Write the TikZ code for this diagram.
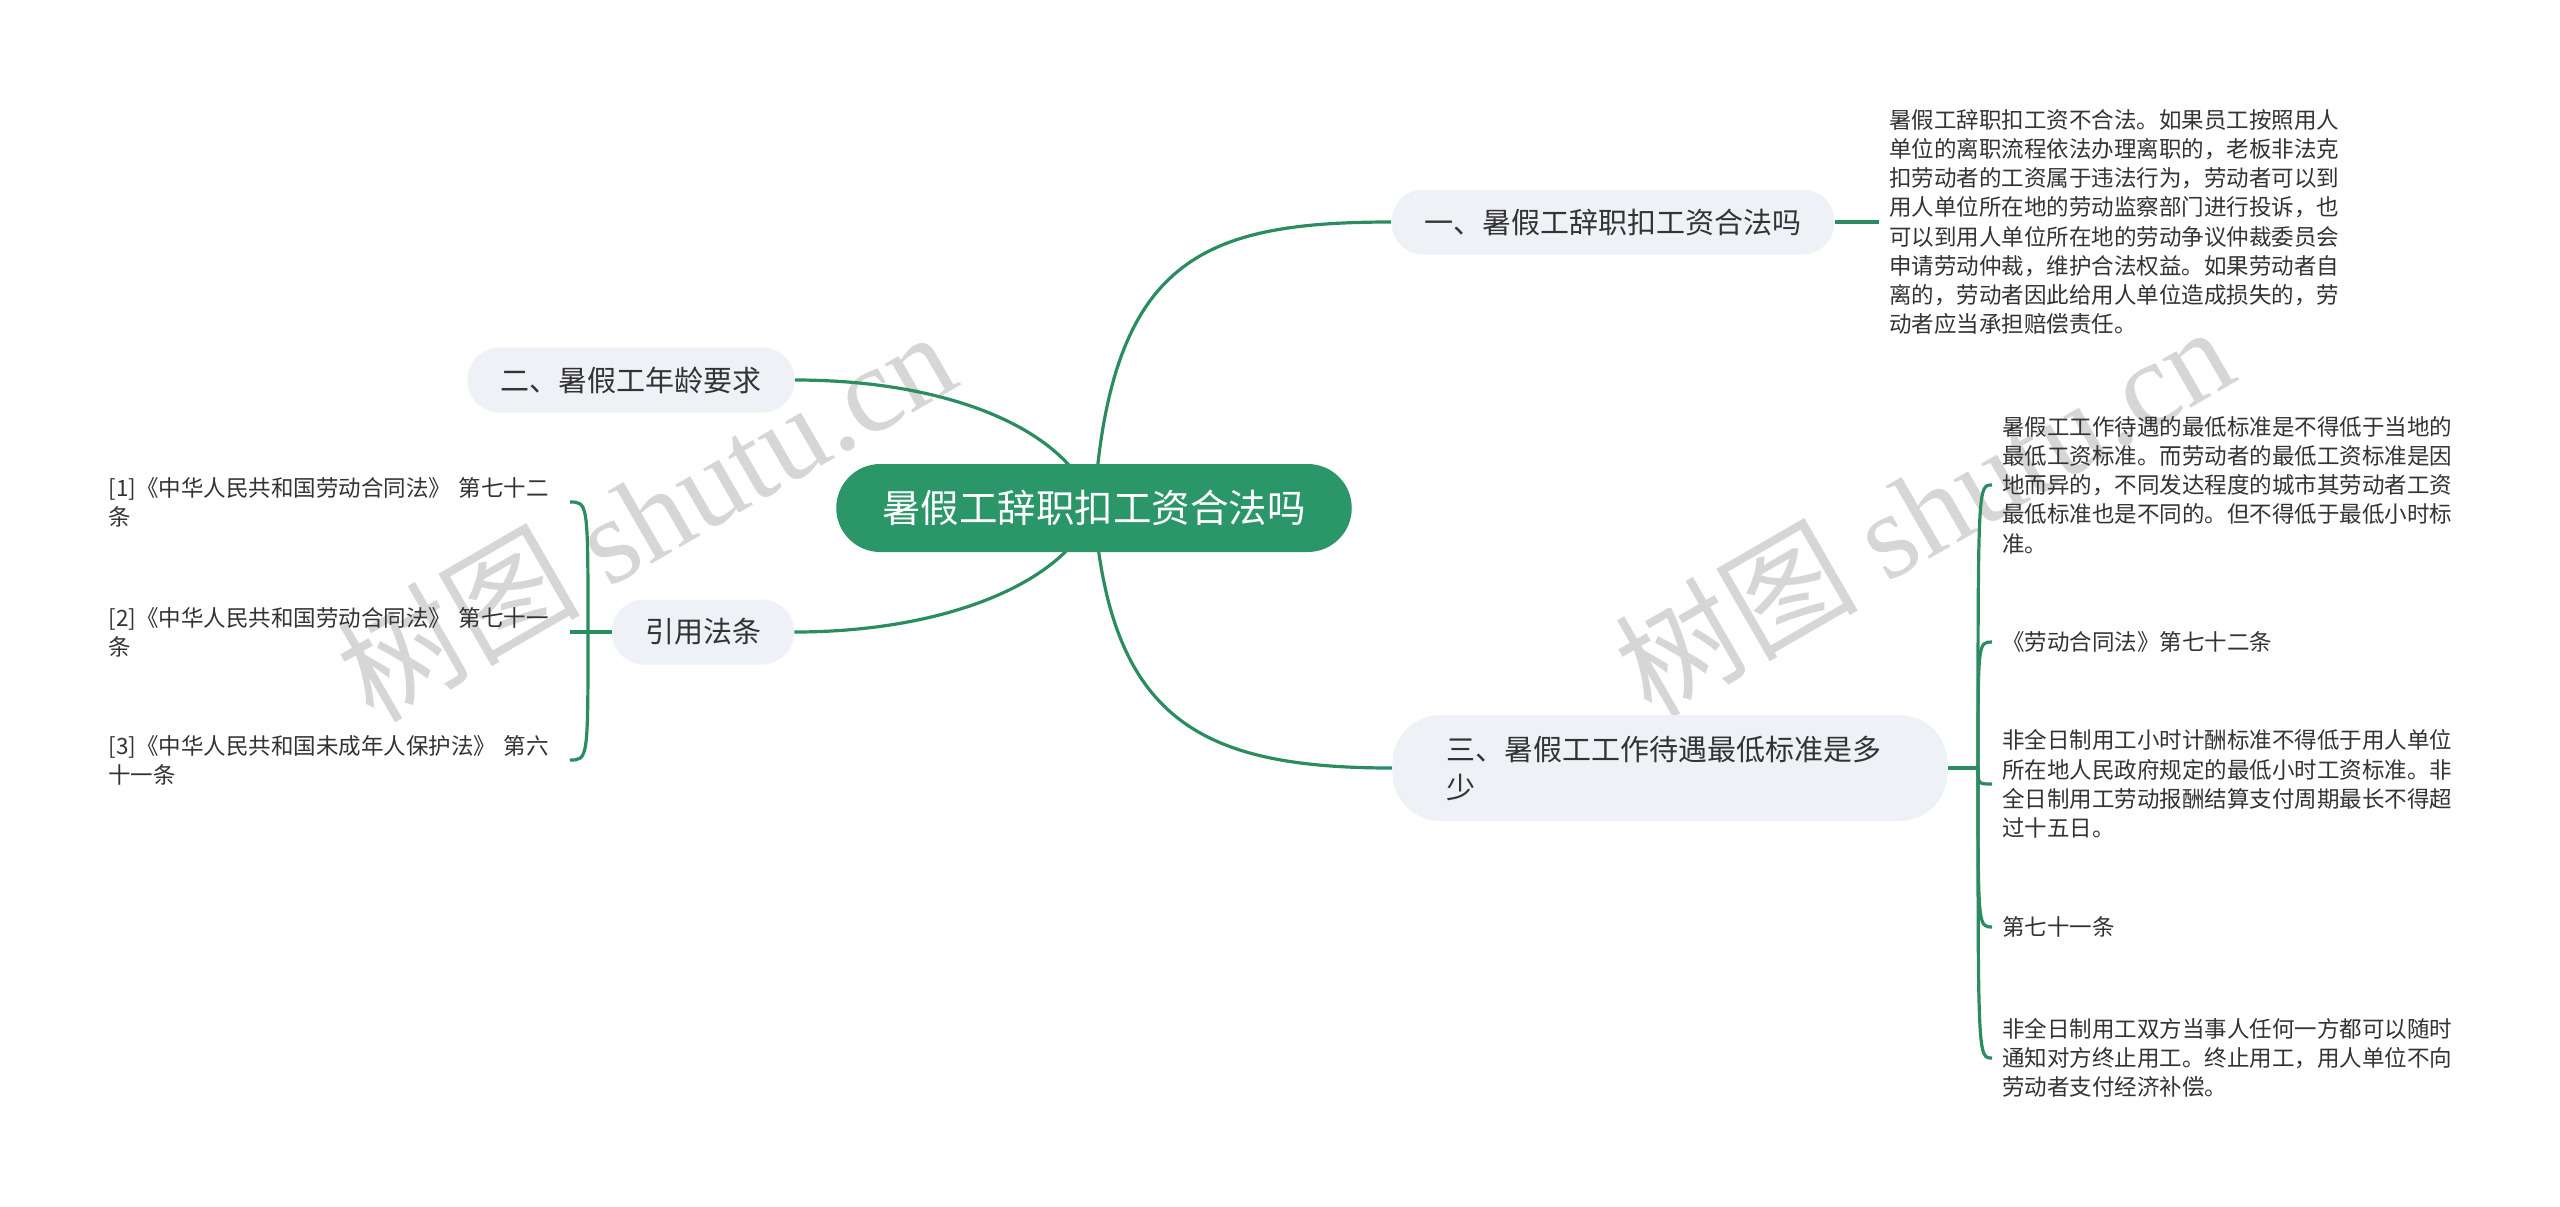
\documentclass[tikz,border=0pt]{standalone}
\usepackage{fontspec}
\setmainfont{Noto Sans CJK SC}
\newfontfamily\wmfont{Liberation Serif}
\usetikzlibrary{backgrounds}
\definecolor{rootgreen}{RGB}{43,150,104}
\definecolor{linkgreen}{RGB}{43,140,96}
\definecolor{topicgrey}{RGB}{238,241,245}
\definecolor{inkgrey}{RGB}{51,51,51}
\definecolor{markgrey}{RGB}{214,214,214}
\begin{document}
\begin{tikzpicture}[x=0.5pt,y=-0.5pt,
  mainbox/.style={fill=rootgreen,text=white,rounded corners=22pt,minimum height=44pt,inner xsep=23pt,font=\fontsize{19.25}{23}\selectfont},
  topicbox/.style={fill=topicgrey,text=inkgrey,rounded corners=16pt,minimum height=32.5pt,inner xsep=16.5pt,font=\fontsize{14.5}{19}\selectfont},
  notebox/.style={text=inkgrey,align=left,text width=225.5pt,inner xsep=5pt,font=\fontsize{11.25}{14.6}\selectfont},
  wmbox/.style={text=markgrey,rotate=30,font=\fontsize{61}{61}\selectfont},
  linkline/.style={draw=linkgreen,line width=1.6pt}]
\useasboundingbox (0,0) rectangle (2560,1206);
\node[mainbox] (root) at (1094,508) {暑假工辞职扣工资合法吗};
\node[topicbox] (t1) at (1613,222) {一、暑假工辞职扣工资合法吗};
\node[topicbox] (t2) at (631,380) {二、暑假工年龄要求};
\node[topicbox] (t3) at (703,632) {引用法条};
\node[topicbox,text width=223.5pt,align=left,inner xsep=27pt,minimum height=53pt,rounded corners=24pt] (t4) at (1670,768) {三、暑假工工作待遇最低标准是多\\少};
\node[notebox,anchor=west] (n1) at (1879,222) {暑假工辞职扣工资不合法。如果员工按照用人\\单位的离职流程依法办理离职的，老板非法克\\扣劳动者的工资属于违法行为，劳动者可以到\\用人单位所在地的劳动监察部门进行投诉，也\\可以到用人单位所在地的劳动争议仲裁委员会\\申请劳动仲裁，维护合法权益。如果劳动者自\\离的，劳动者因此给用人单位造成损失的，劳\\动者应当承担赔偿责任。};
\node[notebox,anchor=west] (r1) at (1992,485) {暑假工工作待遇的最低标准是不得低于当地的\\最低工资标准。而劳动者的最低工资标准是因\\地而异的，不同发达程度的城市其劳动者工资\\最低标准也是不同的。但不得低于最低小时标\\准。};
\node[notebox,anchor=west] (r2) at (1992,642) {《劳动合同法》第七十二条};
\node[notebox,anchor=west] (r3) at (1992,784) {非全日制用工小时计酬标准不得低于用人单位\\所在地人民政府规定的最低小时工资标准。非\\全日制用工劳动报酬结算支付周期最长不得超\\过十五日。};
\node[notebox,anchor=west] (r4) at (1992,927) {第七十一条};
\node[notebox,anchor=west] (r5) at (1992,1058) {非全日制用工双方当事人任何一方都可以随时\\通知对方终止用工。终止用工，用人单位不向\\劳动者支付经济补偿。};
\node[notebox,anchor=west] (l1) at (98,502) {[1]《中华人民共和国劳动合同法》 第七十二\\条};
\node[notebox,anchor=west] (l2) at (98,632) {[2]《中华人民共和国劳动合同法》 第七十一\\条};
\node[notebox,anchor=west] (l3) at (98,760) {[3]《中华人民共和国未成年人保护法》 第六\\十一条};
\coordinate (jr) at (1978,768);
\coordinate (jl) at (588,632);
\begin{scope}[on background layer]
\fill[white] (0,0) rectangle (2560,1206);
\node[wmbox] (wm1) at (645,514) {树图 {\wmfont shutu.cn}};
\node[wmbox] (wm2) at (1923,509) {树图 {\wmfont shutu.cn}};
\draw[linkline] (root.center) .. controls (1110,260) and (1200,222) .. (t1.west);
\draw[linkline] (t2.east) .. controls (950,380) and (1070,430) .. (root.center);
\draw[linkline] (t3.east) .. controls (950,632) and (1070,580) .. (root.center);
\draw[linkline] (root.center) .. controls (1110,720) and (1200,768) .. (t4.west);
\draw[linkline] (t1.east) -- (n1.west);
\draw[linkline] (t4.east) -- (jr);
\draw[linkline] (jr) .. controls (jr |- r1.west) .. (r1.west);
\draw[linkline] (jr) .. controls (jr |- r2.west) .. (r2.west);
\draw[linkline] (jr) .. controls (jr |- r3.west) .. (r3.west);
\draw[linkline] (jr) .. controls (jr |- r4.west) .. (r4.west);
\draw[linkline] (jr) .. controls (jr |- r5.west) .. (r5.west);
\draw[linkline] (t3.west) -- (jl);
\draw[linkline] (jl) .. controls (jl |- l1.east) .. (l1.east);
\draw[linkline] (jl) -- (l2.east);
\draw[linkline] (jl) .. controls (jl |- l3.east) .. (l3.east);
\end{scope}
\end{tikzpicture}
\end{document}
